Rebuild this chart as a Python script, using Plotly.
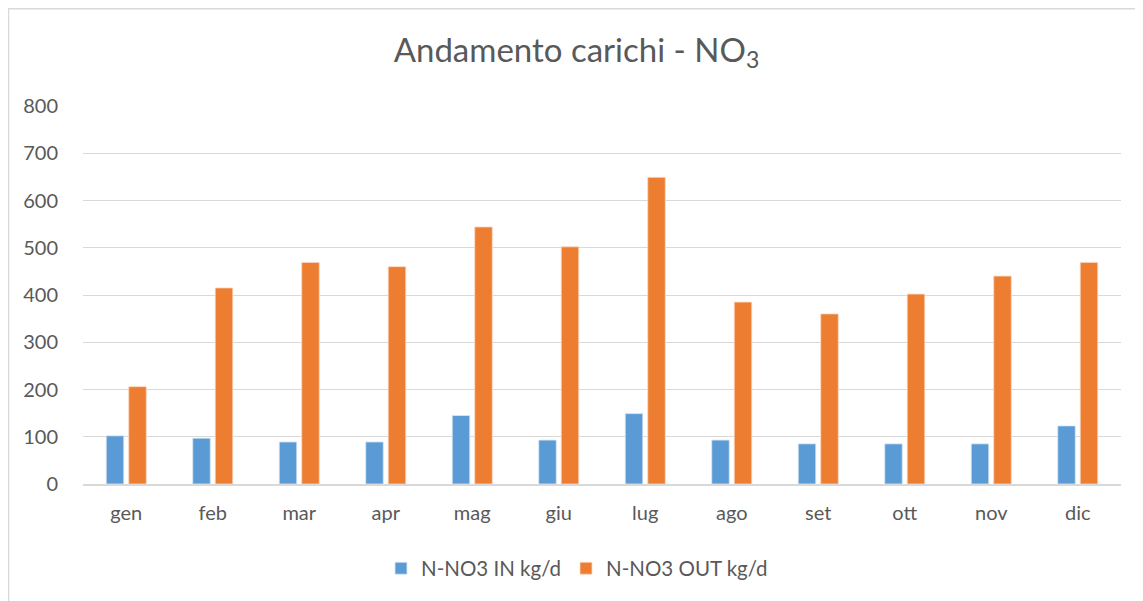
import plotly.graph_objects as go

months = ["gen", "feb", "mar", "apr", "mag", "giu", "lug", "ago", "set", "ott", "nov", "dic"]
in_vals = [102, 97, 89, 89, 145, 93, 149, 93, 85, 85, 85, 123]
out_vals = [206, 415, 469, 460, 544, 502, 649, 385, 360, 402, 440, 469]
y_ticks = [0, 100, 200, 300, 400, 500, 600, 700, 800]

FONT = "Lato, 'Open Sans', sans-serif"
GREY = "#595959"

fig = go.Figure()
fig.add_trace(go.Bar(x=months, y=in_vals, name="N-NO3 IN kg/d",
                     marker=dict(color="#5b9bd5", line=dict(color="#dce9f6", width=0.8))))
fig.add_trace(go.Bar(x=months, y=out_vals, name="N-NO3 OUT kg/d",
                     marker=dict(color="#ed7d31", line=dict(color="#fbd9c4", width=0.8))))

# page body has an 8px margin: figure coordinates are reference coordinates minus 8
OFF = 8
W, H = 1143 - OFF, 601 - OFF
L, R, T, B = 83 - OFF, 1121 - OFF, 106 - OFF, 484.5 - OFF

def px(x):
    return (x - OFF - L) / (R - L)

def py(y):
    return (B - (y - OFF)) / (B - T)

fig.update_layout(
    width=W, height=H,
    margin=dict(l=L, r=W - R, t=T, b=H - B, pad=0),
    paper_bgcolor="white", plot_bgcolor="white",
    barmode="group", bargap=0.48, bargroupgap=0.22,
    font=dict(family=FONT, color=GREY, size=20),
    title=dict(text="Andamento carichi - NO<sub>3</sub>", x=(576.5 - OFF) / W, xanchor="center",
               y=1 - (50 - OFF) / H, yanchor="middle", font=dict(size=33, color=GREY, family=FONT)),
    legend=dict(orientation="h", x=px(577), xanchor="center", y=py(569), yanchor="middle",
                font=dict(size=20.5, color=GREY), itemwidth=30, traceorder="normal"),
    xaxis=dict(showgrid=False, showline=True, linecolor="#d9d9d9", linewidth=1.5,
               ticks="", tickfont=dict(size=20, color=GREY), ticklabelstandoff=10),
    yaxis=dict(range=[0, 800], tickvals=y_ticks, showgrid=True, gridcolor="#d9d9d9", gridwidth=1.3,
               zeroline=False, showline=False, ticks="", tickfont=dict(size=20, color=GREY),
               ticklabelstandoff=24),
    shapes=[dict(type="rect", xref="paper", yref="paper",
                 x0=px(8.5), x1=px(1141),
                 y0=py(606), y1=py(8.5),
                 line=dict(color="#d9d9d9", width=1.5), fillcolor="rgba(0,0,0,0)", layer="below")],
)

fig.write_html("out.html")
